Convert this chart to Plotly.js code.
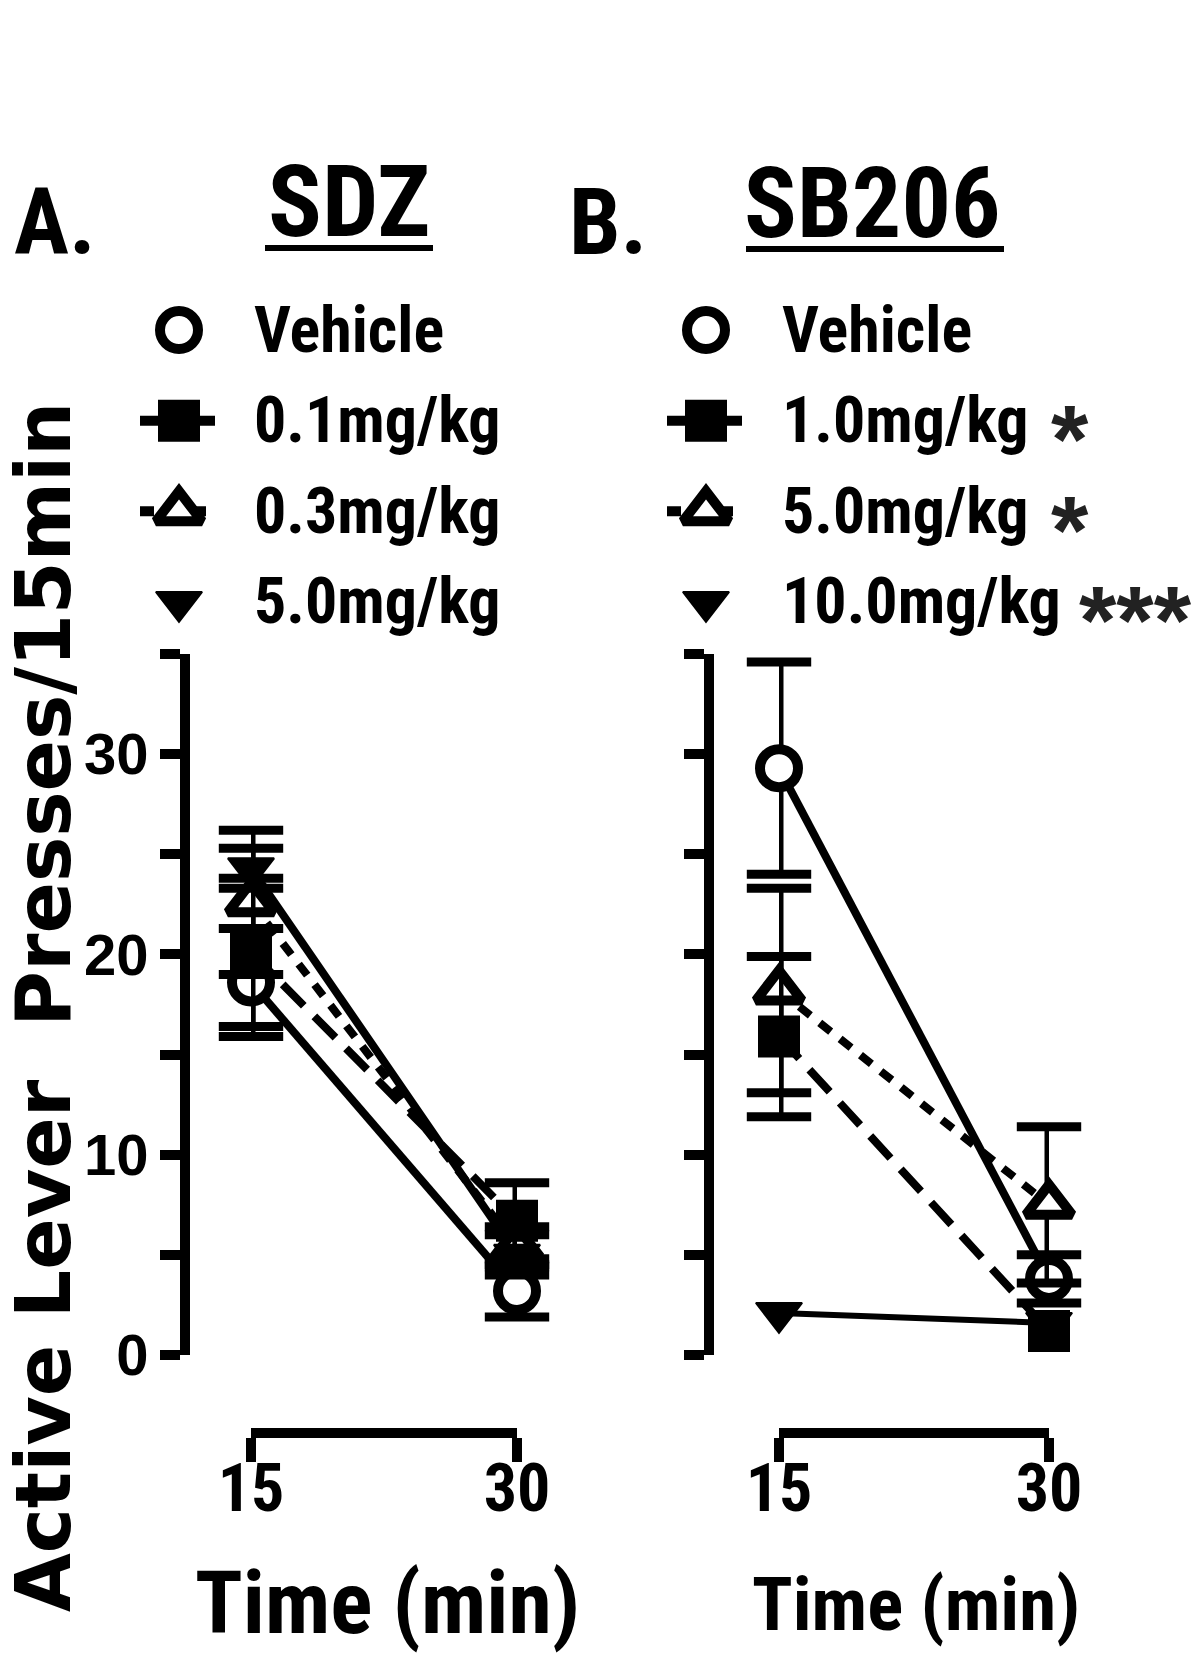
<!DOCTYPE html>
<html><head><meta charset="utf-8">
<script src="https://cdn.plot.ly/plotly-3.0.1.min.js"></script>
<style>html,body{margin:0;padding:0;background:#fff}</style>
</head><body>
<div id="chart" style="width:1200px;height:1654px"></div>
<script>
// ---- data ----
const timePoints = [15, 30];
const timeLabels = ['15', '30'];
const yTickVals = [0, 5, 10, 15, 20, 25, 30, 35];
const yTickText = ['0', '', '10', '', '20', '', '30', ''];

const sdzLabels = ['Vehicle', '0.1mg/kg', '0.3mg/kg', '5.0mg/kg'];
const sdzVehicle = [18.6, 3.2];   const sdzVehicleSem = [2.7, 1.3];
const sdz01 = [20.1, 6.7];        const sdz01Sem = [3.7, 1.9];
const sdz03 = [22.6, 5.4];        const sdz03Sem = [3.6, 1.0];
const sdz50 = [24.3, 5.0];        const sdz50Sem = [1.0, 1.0];

const sbLabels = ['Vehicle', '1.0mg/kg', '5.0mg/kg', '10.0mg/kg'];
const sbStars = ['', '*', '*', '***'];
const sbVehicle = [29.3, 3.8];    const sbVehicleSem = [5.3, 1.2];
const sb10 = [15.9, 1.2];         const sb10Sem = [4.0, 0];
const sb50 = [18.2, 7.5];         const sb50Sem = [5.1, 3.9];
const sb100 = [2.1, 1.6];         const sb100Sem = [0, 0];

// ---- styles ----
const NARROW = '"Liberation Sans Narrow", "Arial Narrow", "Roboto Condensed", "DejaVu Sans Condensed", "Liberation Sans", sans-serif';
const BOLD = '"Liberation Sans", Arial, sans-serif';
const styles = [
  {symbol: 'circle', fill: '#fff', size: 38, mlw: 10, dash: 'solid', lw: 8, legendLine: false},
  {symbol: 'square', fill: '#000', size: 40, mlw: 2, dash: '30px,15px', lw: 8, legendLine: true},
  {symbol: 'triangle-up', fill: '#fff', size: 40, mlw: 10, dash: '14px,12px', lw: 8, legendLine: true},
  {symbol: 'triangle-down', fill: '#000', size: 40, mlw: 2, dash: 'solid', lw: 8, legendLine: false}
];
const ERR_W = 9, CAP = 46;
// draw order of markers (vehicle, triangle, square, triangle-down)
const drawOrder = [0, 2, 1, 3];

function panelTraces(xa, ya, means, sems, lwOverride) {
  const out = [];
  means.forEach((m, i) => {
    const s = styles[i];
    out.push({x: timePoints, y: m, xaxis: xa, yaxis: ya, mode: 'lines', cliponaxis: false,
      line: {color: '#000', width: (lwOverride && lwOverride[i]) || s.lw, dash: s.dash}, hoverinfo: 'skip', showlegend: false});
  });
  drawOrder.forEach(i => {
    const s = styles[i];
    const m = means[i], e = sems[i];
    const ex = [], ey = [], cx = [], cy = [];
    timePoints.forEach((t, k) => {
      if (!(e[k] > 0)) return;
      ex.push(t, t, null); ey.push(m[k] - e[k], m[k] + e[k], null);
      cx.push(t, t); cy.push(m[k] - e[k], m[k] + e[k]);
    });
    if (ex.length) {
      out.push({x: ex, y: ey, xaxis: xa, yaxis: ya, mode: 'lines', cliponaxis: false,
        line: {color: '#000', width: ERR_W}, hoverinfo: 'skip', showlegend: false});
      out.push({x: cx, y: cy, xaxis: xa, yaxis: ya, mode: 'markers', cliponaxis: false,
        marker: {symbol: 'line-ew', size: CAP, color: '#000', line: {color: '#000', width: ERR_W}},
        hoverinfo: 'skip', showlegend: false});
    }
    out.push({x: timePoints, y: m, xaxis: xa, yaxis: ya, mode: 'markers', cliponaxis: false,
      marker: {symbol: s.symbol, size: s.size, color: s.fill, line: {color: '#000', width: s.mlw}},
      hoverinfo: 'skip', showlegend: false});
  });
  return out;
}

function legendTraces(xa, ya, labels) {
  const out = [];
  labels.forEach((lab, i) => {
    const s = styles[i];
    if (s.legendLine) {
      out.push({x: [-1, 1], y: [i, i], xaxis: xa, yaxis: ya, mode: 'lines', cliponaxis: false,
        line: {color: '#000', width: 10, dash: s.dash}, hoverinfo: 'skip', showlegend: false});
    }
    out.push({x: [0], y: [i], xaxis: xa, yaxis: ya, mode: 'markers', cliponaxis: false,
      marker: {symbol: s.symbol, size: s.size, color: s.fill, line: {color: '#000', width: s.mlw}},
      hoverinfo: 'skip', showlegend: false});
  });
  return out;
}

const data = [].concat(
  panelTraces('x', 'y', [sdzVehicle, sdz01, sdz03, sdz50], [sdzVehicleSem, sdz01Sem, sdz03Sem, sdz50Sem]),
  panelTraces('x2', 'y2', [sbVehicle, sb10, sb50, sb100], [sbVehicleSem, sb10Sem, sb50Sem, sb100Sem], [8, 8, 8, 6]),
  legendTraces('x3', 'y3', sdzLabels),
  legendTraces('x4', 'y4', sbLabels)
);

const H = 1654, W = 1200;
const py = v => 1 - v / H;
const px = v => v / W;

const xBase = {
  range: [15, 30], anchor: 'free', position: py(1433),
  showline: true, linewidth: 10, linecolor: '#000',
  ticks: 'outside', ticklen: 24, tickwidth: 10, tickcolor: '#000',
  tickvals: timePoints, ticktext: timeLabels, ticklabelstandoff: -30,
  tickfont: {family: NARROW, size: 66, color: '#000', weight: 'bold'},
  showgrid: false, zeroline: false, fixedrange: true
};
const yBase = {
  range: [0, 35], domain: [py(1355), py(654)], anchor: 'free',
  showline: true, linewidth: 10, linecolor: '#000',
  ticks: 'outside', ticklen: 20, tickwidth: 10, tickcolor: '#000',
  tickvals: yTickVals, ticktext: yTickText,
  tickfont: {family: BOLD, size: 58, color: '#000', weight: 'bold'},
  showgrid: false, zeroline: false, fixedrange: true
};
const hidden = {visible: false, showgrid: false, zeroline: false, fixedrange: true};
const legYDomain = [py(647.3), py(284.7)];

const annotations = [];
function ann(o) { annotations.push(Object.assign({showarrow: false, xref: 'paper', yref: 'paper'}, o)); }

ann({text: 'A.', x: px(12), xanchor: 'left', y: py(222), yanchor: 'middle', font: {family: NARROW, size: 92, color: '#000', weight: 'bold'}});
ann({text: 'B.', x: px(567), xanchor: 'left', y: py(222), yanchor: 'middle', font: {family: NARROW, size: 92, color: '#000', weight: 'bold'}});
ann({text: 'SDZ', x: px(349), xanchor: 'center', y: py(202), yanchor: 'middle', font: {family: NARROW, size: 100, color: '#000', weight: 'bold'}});
ann({text: 'SB206', x: px(872), xanchor: 'center', y: py(203), yanchor: 'middle', font: {family: NARROW, size: 98, color: '#000', weight: 'bold'}});
ann({text: 'Active Lever&nbsp; Presses/15min', textangle: -90, x: px(44), xanchor: 'center', y: py(1007), yanchor: 'middle', font: {family: '"DejaVu Sans", sans-serif', size: 76, color: '#000', weight: 'bold'}});
ann({text: 'Time (min)', x: px(388), xanchor: 'center', y: py(1602), yanchor: 'middle', font: {family: NARROW, size: 88, color: '#000', weight: 'bold'}});
ann({text: 'Time (min)', x: px(916), xanchor: 'center', y: py(1604), yanchor: 'middle', font: {family: NARROW, size: 75, color: '#000', weight: 'bold'}});

sdzLabels.forEach((t, i) => ann({text: t, x: px(252), xanchor: 'left', yref: 'y3', y: i, yanchor: 'middle', font: {family: NARROW, size: 64, color: '#000', weight: 'bold'}}));
sbLabels.forEach((t, i) => ann({text: t, x: px(780), xanchor: 'left', yref: 'y4', y: i, yanchor: 'middle', font: {family: NARROW, size: 64, color: '#000', weight: 'bold'}}));
sbStars.forEach((t, i) => { if (t) ann({text: t, x: px(t.length > 1 ? 1078 : 1050), xanchor: 'left', yref: 'y4', y: i, yanchor: 'middle', yshift: -18, borderpad: 0, font: {family: BOLD, size: 96, color: '#222', weight: 'bold'}}); });

const layout = {
  width: W, height: H, margin: {l: 0, r: 0, t: 0, b: 0},
  paper_bgcolor: '#fff', plot_bgcolor: 'rgba(0,0,0,0)', showlegend: false,
  xaxis: Object.assign({}, xBase, {domain: [px(251), px(517)]}),
  yaxis: Object.assign({}, yBase, {position: px(185)}),
  xaxis2: Object.assign({}, xBase, {domain: [px(779), px(1049)]}),
  yaxis2: Object.assign({}, yBase, {position: px(709), showticklabels: false}),
  xaxis3: Object.assign({}, hidden, {domain: [px(140), px(218)], range: [-1, 1], anchor: 'y3'}),
  yaxis3: Object.assign({}, hidden, {domain: legYDomain, range: [3.5, -0.5], anchor: 'x3'}),
  xaxis4: Object.assign({}, hidden, {domain: [px(667), px(745)], range: [-1, 1], anchor: 'y4'}),
  yaxis4: Object.assign({}, hidden, {domain: legYDomain, range: [3.5, -0.5], anchor: 'x4'}),
  shapes: [
    {type: 'line', xref: 'paper', yref: 'paper', x0: px(265), x1: px(433), y0: py(248), y1: py(248), line: {color: '#000', width: 6}},
    {type: 'line', xref: 'paper', yref: 'paper', x0: px(746), x1: px(1004), y0: py(249), y1: py(249), line: {color: '#000', width: 6}}
  ],
  annotations: annotations
};

Plotly.newPlot('chart', data, layout, {displayModeBar: false, staticPlot: true});
</script>
</body></html>
